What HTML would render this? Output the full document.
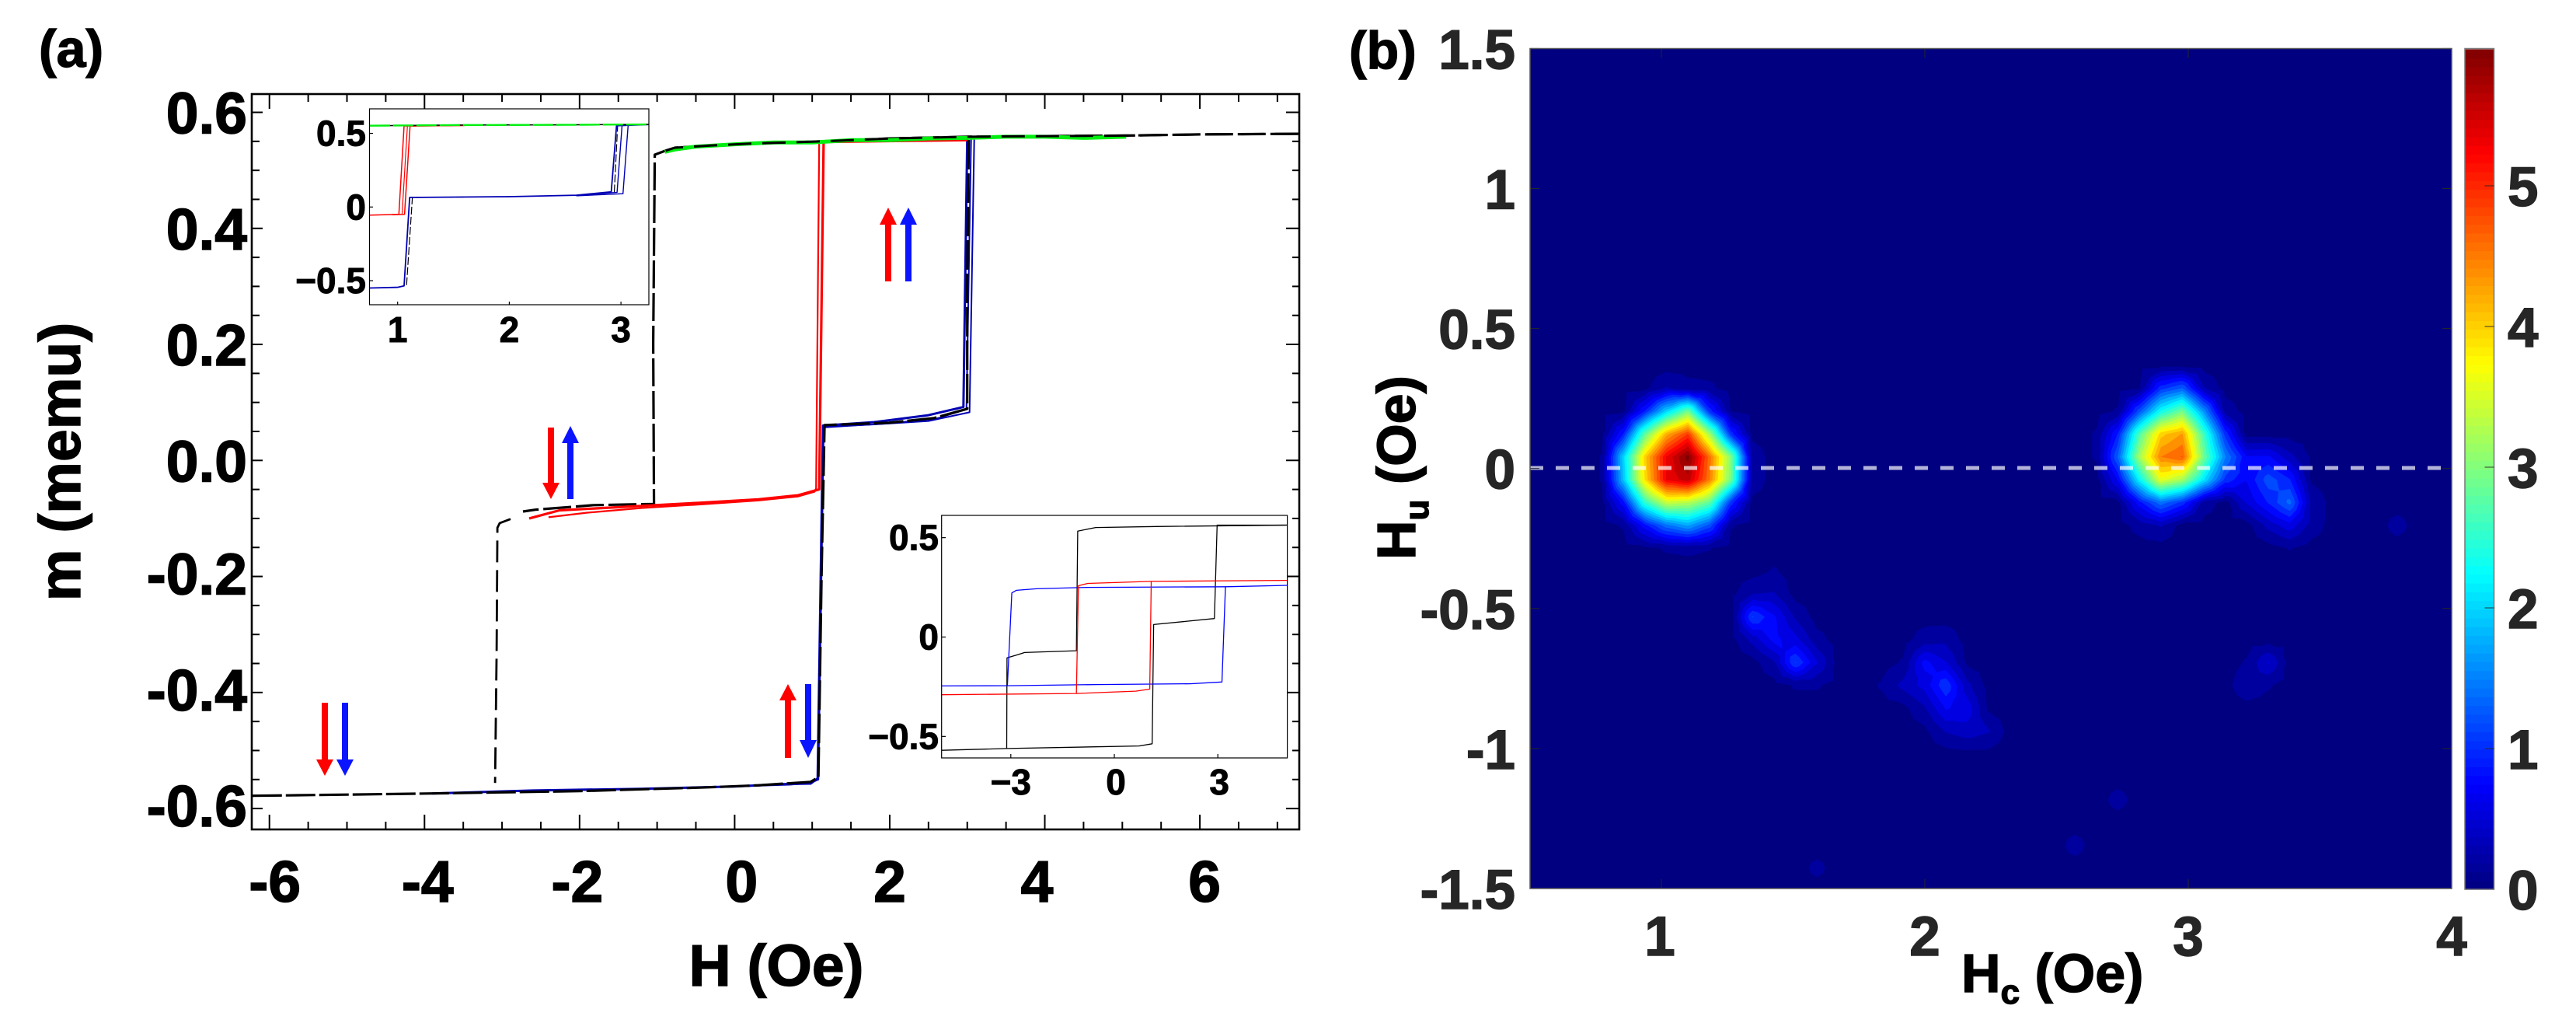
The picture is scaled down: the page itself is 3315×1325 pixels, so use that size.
<!DOCTYPE html>
<html lang="en">
<head>
<meta charset="utf-8">
<title>Hysteresis loop and FORC distribution</title>
<style>
html,body{margin:0;padding:0;background:#fff;}
svg{display:block;position:absolute;left:0;top:0;}
text{font-family:"Liberation Sans",Arial,sans-serif;font-weight:bold;}
</style>
</head>
<body>
<svg id="fig" xmlns="http://www.w3.org/2000/svg" width="3315" height="1325" viewBox="0 0 3315 1325">
  <defs>
    <clipPath id="clipMain"><rect x="324" y="121" width="1348" height="946"/></clipPath>
    <clipPath id="clipIn1"><rect x="475.5" y="140" width="359.5" height="252"/></clipPath>
    <clipPath id="clipIn2"><rect x="1211.7" y="663" width="444.9" height="312"/></clipPath>
    <clipPath id="clipHeat"><rect x="1969" y="62.5" width="1186" height="1080.5"/></clipPath>
  </defs>

  <rect x="0" y="0" width="3315" height="1325" fill="#fff"/>

  <text x="50" y="86" font-size="68" fill="#000" stroke="#000" stroke-width="1.4">(a)</text>
  <text x="1736" y="88" font-size="68" fill="#000" stroke="#000" stroke-width="1.4">(b)</text>

  <g id="mainPlot"></g>

  <g>
    <polygon fill="#ff0000" points="1143,267 1154,289 1147,289 1147,362 1139,362 1139,289 1132,289"/>
    <polygon fill="#0a14ff" points="1169,267 1180,289 1173,289 1173,362 1165,362 1165,289 1158,289"/>
    <polygon fill="#ff0000" points="709,642 720,621 713,621 713,550 705,550 705,621 698,621"/>
    <polygon fill="#0a14ff" points="734,548 745,570 738,570 738,642 730,642 730,570 723,570"/>
    <polygon fill="#ff0000" points="418,998 429,977 422,977 422,904 414,904 414,977 407,977"/>
    <polygon fill="#0a14ff" points="444,998 455,977 448,977 448,904 440,904 440,977 433,977"/>
    <polygon fill="#ff0000" points="1014,880 1025,901 1018,901 1018,975 1010,975 1010,901 1003,901"/>
    <polygon fill="#0a14ff" points="1040,975 1051,952 1044,952 1044,880 1036,880 1036,952 1029,952"/>
  </g>

  <g id="inset1"></g>
  <g id="inset2"></g>

  <text transform="translate(103,594) rotate(-90)" text-anchor="middle" font-size="75" fill="#000" stroke="#000" stroke-width="1.4">m (memu)</text>
  <text x="999" y="1268" text-anchor="middle" font-size="75" fill="#000" stroke="#000" stroke-width="1.4">H (Oe)</text>

  <g id="heatPlot"></g>
  <g id="colorbar"></g>

  <text transform="translate(1821,720) rotate(-90)" font-size="70" fill="#000" stroke="#000" stroke-width="1.4">H<tspan font-size="44" dy="17">u</tspan><tspan dy="-17"> (Oe)</tspan></text>
  <text x="2524" y="1276" font-size="70" fill="#000" stroke="#000" stroke-width="1.4">H<tspan font-size="44" dy="15">c</tspan><tspan dy="-15"> (Oe)</tspan></text>
</svg>

<script>
/* ---------- panel (a): main loop data (H in Oe, m in memu) ---------- */
const mainXTickLabels = [-6, -4, -2, 0, 2, 4, 6];
const mainYTickLabels = ["0.6", "0.4", "0.2", "0.0", "-0.2", "-0.4", "-0.6"];
const mainXLabelNudge = [7, 4, -3, 9, 0, -10, 6];

const blackDownH = [7.27, 6, 5.05, 4, 3.0, 2, 1.13, 0.2, -0.3, -0.77, -0.89, -1.03, -1.05, -1.04, -1.82, -2.57, -2.73];
const blackDownM = [0.563, 0.562, 0.560, 0.559, 0.558, 0.555, 0.550, 0.546, 0.543, 0.539, 0.534, 0.527, 0.2, -0.075, -0.077, -0.085, -0.088];
const blackTailH = [-2.89, -3.03, -3.06, -3.07, -3.09];
const blackTailM = [-0.101, -0.108, -0.116, -0.33, -0.556];
const blackUpH = [-6.22, -5, -3.9, -2, -0.45, 0.31, 0.98, 1.08, 1.12, 1.16, 1.99, 2.57, 3.0, 3.0, 3.02];
const blackUpM = [-0.578, -0.576, -0.574, -0.570, -0.564, -0.560, -0.554, -0.546, -0.2, 0.061, 0.065, 0.073, 0.089, 0.3, 0.555];
const greenH = [-0.9, -0.77, -0.5, 0, 0.5, 1, 1.5, 2, 2.5, 3, 3.5, 4, 4.5, 5.05];
const greenM = [0.532, 0.536, 0.541, 0.545, 0.548, 0.548, 0.552, 0.552, 0.555, 0.556, 0.558, 0.558, 0.556, 0.558];
const redAH = [-2.65, -2.26, -1.42, -0.46, 0.31, 0.82, 1.09, 1.148, 3.0];
const redAM = [-0.1, -0.086, -0.08, -0.073, -0.067, -0.06, -0.05, 0.549, 0.552];
const redBH = [-2.4, -1.9, -1.2, -0.46, 0.31, 0.82, 1.03, 1.05, 1.09];
const redBM = [-0.098, -0.09, -0.082, -0.076, -0.069, -0.062, -0.054, -0.048, 0.549];
const blueAH = [-3.9, -2.6, -1.2, 0, 0.6, 0.98, 1.07, 1.14, 1.8, 2.5, 2.95, 3.0];
const blueAM = [-0.574, -0.569, -0.566, -0.562, -0.558, -0.557, -0.548, 0.06, 0.066, 0.078, 0.092, 0.555];
const blueBH = [0, 0.7, 0.98, 1.08, 1.15, 1.8, 2.5, 3.03, 3.09];
const blueBM = [-0.562, -0.559, -0.556, -0.550, 0.058, 0.062, 0.068, 0.083, 0.553];
const blueCH = [1.16, 2, 2.6, 2.99, 3.05];
const blueCM = [0.057, 0.064, 0.072, 0.088, 0.555];

/* ---------- inset 1: minor-loop zoom ---------- */
const in1XLabels = [1, 2, 3];
const in1YValues = [0.5, 0, -0.5];
const in1YLabels = ["0.5", "0", "\u22120.5"];
const in1RedAH = [0.75, 1.011, 1.058, 1.6];
const in1RedAM = [-0.055, -0.05, 0.55, 0.553];
const in1RedBH = [0.95, 1.062, 1.111, 1.5];
const in1RedBM = [-0.052, -0.05, 0.55, 0.553];
const in1RedCH = [1.04, 1.088];
const in1RedCM = [-0.05, 0.55];
const in1BlueAH = [0.75, 1.0, 1.058, 1.108, 2.0, 2.6, 2.913, 2.96, 3.25];
const in1BlueAM = [-0.55, -0.545, -0.535, 0.065, 0.07, 0.08, 0.103, 0.552, 0.56];
const in1BlueBH = [2.6, 2.965, 3.01];
const in1BlueBM = [0.078, 0.1, 0.552];
const in1BlueCH = [2.6, 3.018, 3.064];
const in1BlueCM = [0.076, 0.09, 0.552];
const in1BlackAH = [1.08, 1.132, 2];
const in1BlackAM = [-0.53, 0.065, 0.07];
const in1BlackBH = [2.94, 2.97];
const in1BlackBM = [0.1, 0.552];
const in1TopH = [0.75, 1.5, 2.5, 3.25];
const in1TopM = [0.552, 0.556, 0.558, 0.561];

/* ---------- inset 2: three full loops ---------- */
const in2XLabels = ["\u22123", "0", "3"];
const in2XValues = [-3, 0, 3];
const in2YValues = [0.5, 0, -0.5];
const in2YLabels = ["0.5", "0", "\u22120.5"];
const in2BlackUpH = [-5, -3.12, 0.72, 1.097, 1.14, 2.9, 2.98, 5.01];
const in2BlackUpM = [-0.57, -0.561, -0.548, -0.537, 0.063, 0.093, 0.563, 0.563];
const in2BlackDownH = [5.01, 1.23, -0.54, -1.06, -1.1, -2.6, -2.84, -3.11, -3.12];
const in2BlackDownM = [0.563, 0.556, 0.551, 0.533, -0.069, -0.078, -0.091, -0.105, -0.56];
const in2RedUpH = [-5, -1.1, 0.62, 1.027, 1.07, 5.01];
const in2RedUpM = [-0.29, -0.284, -0.272, -0.262, 0.28, 0.285];
const in2RedDownH = [1.07, -0.77, -1.04, -1.1];
const in2RedDownM = [0.28, 0.27, 0.258, -0.284];
const in2BlueUpH = [-5, -3.1, -0.5, 2.2, 3.12, 3.22, 5.01];
const in2BlueUpM = [-0.246, -0.245, -0.239, -0.235, -0.226, 0.253, 0.26];
const in2BlueDownH = [3.22, -0.77, -2.26, -2.84, -2.97, -3.1];
const in2BlueDownM = [0.253, 0.25, 0.243, 0.235, 0.222, -0.245];

/* ---------- panel (b): FORC density, estimated on the measurement grid ---------- */
const hcStart = 0.448, hcStep = 0.0816, hcCount = 45;
const huStart = -1.509, huStep = 0.0816, huCount = 38;
const heatXTicks = [1, 2, 3, 4];
const heatYTicks = [1.5, 1, 0.5, 0, -0.5, -1, -1.5];
const heatYLabels = ["1.5", "1", "0.5", "0", "-0.5", "-1", "-1.5"];
const colorTicks = [0, 1, 2, 3, 4, 5];
const colorMax = 5.97;

/* each block: values from the top row downwards; origin = [top row index, left column index] */
const peakOneOrigin = [22, 3];
const peakOne = [
  [0, 0, 0, 0.03, 0.3, 0.15, 0.12, 0, 0],
  [0, 0, 0.05, 0.9, 2.0, 2.9, 1.0, 0.08, 0],
  [0, 0.02, 0.9, 2.8, 4.2, 4.9, 3.2, 1.0, 0.03],
  [0, 0.09, 2.0, 4.0, 5.3, 5.97, 4.6, 3.0, 0.2],
  [0, 0.09, 1.9, 3.9, 5.3, 5.6, 4.5, 2.9, 0.2],
  [0, 0.02, 0.8, 2.5, 3.4, 3.3, 2.8, 1.0, 0.03],
  [0, 0, 0.1, 0.8, 1.4, 1.7, 1.2, 0.1, 0],
  [0, 0, 0, 0.03, 0.1, 0.12, 0.09, 0, 0]
];
const peakTwoOrigin = [23, 27];
const peakTwo = [
  [0, 0, 0, 0.02, 0.02, 0, 0, 0, 0, 0, 0, 0],
  [0, 0, 0.08, 1.0, 1.3, 0.3, 0, 0, 0, 0, 0, 0],
  [0, 0.1, 1.2, 2.3, 2.9, 1.6, 0.2, 0, 0, 0, 0, 0],
  [0.1, 0.9, 2.7, 4.0, 4.3, 2.6, 1.0, 0, 0, 0, 0, 0],
  [0.1, 1.3, 3.2, 4.48, 4.7, 2.9, 1.5, 0.7, 0.72, 0.35, 0.05, 0],
  [0, 0.7, 2.2, 3.6, 3.2, 2.1, 1.0, 0.7, 1.2, 0.9, 0.05, 0],
  [0, 0.02, 0.8, 1.4, 1.0, 0.2, 0, 0.5, 0.9, 1.35, 0.25, 0],
  [0, 0, 0.15, 0.3, 0, 0, 0, 0, 0.35, 0.6, 0.2, 0],
  [0, 0, 0, 0, 0, 0, 0, 0, 0, 0.09, 0, 0]
];
const peakFourOrigin = [14, 10];
const peakFour = [
  [0, 0, 0.1, 0, 0, 0],
  [0.02, 0.28, 0.3, 0, 0, 0],
  [0, 1.1, 0.72, 0.25, 0, 0],
  [0, 0.35, 0.75, 0.55, 0.15, 0],
  [0, 0, 0.25, 1.1, 0.5, 0],
  [0, 0, 0, 0.1, 0.1, 0.02]
];
const peakFiveOrigin = [11, 17];
const peakFive = [
  [0, 0, 0.18, 0.22, 0, 0, 0],
  [0, 0.1, 0.75, 0.5, 0.04, 0, 0],
  [0.1, 0.34, 0.55, 1.05, 0.34, 0, 0],
  [0, 0.02, 0.25, 0.7, 0.6, 0.04, 0],
  [0, 0, 0.03, 0.3, 0.4, 0.3, 0],
  [0, 0, 0, 0, 0.02, 0.02, 0]
];
const spotSixOrigin = [10, 34];
const spotSix = [
  [0.1, 0.5],
  [0.25, 0.1]
];
const loneSpotRows = [16, 1, 2, 4];
const loneSpotCols = [41, 14, 26, 28];
const loneSpotValues = [0.15, 0.13, 0.15, 0.15];

/* ---------- helpers ---------- */
const NS = "http://www.w3.org/2000/svg";
function mk(parent, tag, attrs) {
  const el = document.createElementNS(NS, tag);
  for (const k in attrs) el.setAttribute(k, attrs[k]);
  parent.appendChild(el);
  return el;
}
function polyPath(hs, ms, sx, sy) {
  let d = "";
  for (let i = 0; i < hs.length; i++) d += (i ? "L" : "M") + sx(hs[i]).toFixed(1) + " " + sy(ms[i]).toFixed(1);
  return d;
}
function curve(parent, hs, ms, sx, sy, color, width, dash) {
  const a = { d: polyPath(hs, ms, sx, sy), fill: "none", stroke: color, "stroke-width": width, "stroke-linejoin": "round" };
  if (dash) a["stroke-dasharray"] = dash;
  return mk(parent, "path", a);
}
function label(parent, x, y, str, size, anchor, color) {
  const t = mk(parent, "text", { x: x, y: y, "font-size": size, "text-anchor": anchor, fill: color, stroke: color, "stroke-width": size * 0.02 });
  t.textContent = str;
  return t;
}

/* ---------- panel (a) main ---------- */
const xMain = h => 945.4 + 99.78 * h;
const yMain = m => 592.3 - 746.3 * m;
const mainG = document.getElementById("mainPlot");
const mainCurves = mk(mainG, "g", { "clip-path": "url(#clipMain)" });



let c;
c = curve(mainCurves, blueAH, blueAM, xMain, yMain, "#0000b4", 3);


c = curve(mainCurves, blueBH, blueBM, xMain, yMain, "#0000b4", 2);


c = curve(mainCurves, blueCH, blueCM, xMain, yMain, "#0000b4", 2);


c = curve(mainCurves, blackUpH, blackUpM, xMain, yMain, "#000", 3.2, "38 5");


c = curve(mainCurves, blackDownH, blackDownM, xMain, yMain, "#000", 3.2, "36 6");


c = curve(mainCurves, blackTailH, blackTailM, xMain, yMain, "#000", 2.8, "28 10");


c = curve(mainCurves, redBH, redBM, xMain, yMain, "#ff0000", 2.2);


c = curve(mainCurves, redAH, redAM, xMain, yMain, "#ff0000", 3.2);


c = curve(mainCurves, greenH, greenM, xMain, yMain, "#00ee10", 5);


c = curve(mainCurves, blackDownH.slice(0, 11), blackDownM.slice(0, 11), xMain, yMain, "#000", 3, "30 14");



for (let v = -6; v <= 7.01; v += 0.5) {
  const major = Math.abs(v / 2 - Math.round(v / 2)) < 1e-6;
  const len = major ? 19 : 10;
  const x = xMain(v);
  const b = mk(mainG, "line", { x1: x, x2: x, y1: 1067, y2: 1067 - len, stroke: "#000", "stroke-width": 2 });
  
  
  const t = mk(mainG, "line", { x1: x, x2: x, y1: 121, y2: 121 + len, stroke: "#000", "stroke-width": 2 });
  
  
}
for (let k = -12; k <= 12; k++) {
  const v = k * 0.05;
  const major = k % 4 === 0;
  const y = yMain(v);
  const l = mk(mainG, "line", { x1: 324, x2: 324 + (major ? 14 : 10), y1: y, y2: y, stroke: "#000", "stroke-width": 2 });
  
  
  const r = mk(mainG, "line", { x1: 1672, x2: 1672 - (major ? 17 : 9), y1: y, y2: y, stroke: "#000", "stroke-width": 2 });
  
  
}
const mainFrame = mk(mainG, "rect", { x: 324, y: 121, width: 1348, height: 946, fill: "none", stroke: "#000", "stroke-width": 2.6 });


mainXTickLabels.forEach((v, i) => {
  const t = label(mainG, xMain(v) + mainXLabelNudge[i], 1160, String(v), 75, "middle", "#000");
  
  
});
mainYTickLabels.forEach(s => {
  const v = parseFloat(s);
  const t = label(mainG, 318, yMain(v) + (v < 0 ? 23 : 27), s, 75, "end", "#000");
  
  
});

/* ---------- inset 1 ---------- */
const xIn1 = h => 511.7 + 143.7 * (h - 1);
const yIn1 = m => 266.3 - 189.5 * m;
const in1G = document.getElementById("inset1");
const in1Bg = mk(in1G, "rect", { x: 475.5, y: 140, width: 359.5, height: 252, fill: "#fff" });


const in1C = mk(in1G, "g", { "clip-path": "url(#clipIn1)" });


c = curve(in1C, in1RedAH, in1RedAM, xIn1, yIn1, "#ff0000", 1.5);


c = curve(in1C, in1RedBH, in1RedBM, xIn1, yIn1, "#ff0000", 1.5);


c = curve(in1C, in1RedCH, in1RedCM, xIn1, yIn1, "#ff0000", 1.2);


c = curve(in1C, in1BlackAH, in1BlackAM, xIn1, yIn1, "#000", 1.2, "10 3");


c = curve(in1C, in1BlackBH, in1BlackBM, xIn1, yIn1, "#000", 1.2, "10 3");


c = curve(in1C, in1BlueAH, in1BlueAM, xIn1, yIn1, "#0000b4", 1.8);


c = curve(in1C, in1BlueBH, in1BlueBM, xIn1, yIn1, "#0000b4", 1.4);


c = curve(in1C, in1BlueCH, in1BlueCM, xIn1, yIn1, "#0000b4", 1.4);


c = curve(in1C, in1TopH, in1TopM, xIn1, yIn1, "#000", 1.5);


c = curve(in1C, in1TopH, in1TopM, xIn1, yIn1, "#00ee10", 2.4, "26 4");


const in1F = mk(in1G, "rect", { x: 475.5, y: 140, width: 359.5, height: 252, fill: "none", stroke: "#000", "stroke-width": 1.2 });


in1XLabels.forEach(v => {
  const x = xIn1(v);
  const tk = mk(in1G, "line", { x1: x, x2: x, y1: 392, y2: 388, stroke: "#000", "stroke-width": 1.2 });
  
  
  const t = label(in1G, x, 440, String(v), 46, "middle", "#000");
  
  
});
in1YValues.forEach((v, i) => {
  const y = yIn1(v);
  const tk = mk(in1G, "line", { x1: 475.5, x2: 480, y1: y, y2: y, stroke: "#000", "stroke-width": 1.2 });
  
  
  const t = label(in1G, 471, y + 16, in1YLabels[i], 46, "end", "#000");
  
  
});

/* ---------- inset 2 ---------- */
const xIn2 = h => 1434 + 44.4 * h;
const yIn2 = m => 819.5 - 255.7 * m;
const in2G = document.getElementById("inset2");
const in2Bg = mk(in2G, "rect", { x: 1211.7, y: 663, width: 444.9, height: 312, fill: "#fff" });


const in2C = mk(in2G, "g", { "clip-path": "url(#clipIn2)" });


c = curve(in2C, in2BlackUpH, in2BlackUpM, xIn2, yIn2, "#000", 1.3);


c = curve(in2C, in2BlackDownH, in2BlackDownM, xIn2, yIn2, "#000", 1.3);


c = curve(in2C, in2BlueUpH, in2BlueUpM, xIn2, yIn2, "#0000ff", 1.3);


c = curve(in2C, in2BlueDownH, in2BlueDownM, xIn2, yIn2, "#0000ff", 1.3);


c = curve(in2C, in2RedUpH, in2RedUpM, xIn2, yIn2, "#ff0000", 1.3);


c = curve(in2C, in2RedDownH, in2RedDownM, xIn2, yIn2, "#ff0000", 1.3);


const in2F = mk(in2G, "rect", { x: 1211.7, y: 663, width: 444.9, height: 312, fill: "none", stroke: "#000", "stroke-width": 1.2 });


in2XValues.forEach((v, i) => {
  const x = xIn2(v);
  const tk = mk(in2G, "line", { x1: x, x2: x, y1: 975, y2: 970, stroke: "#000", "stroke-width": 1.2 });
  
  
  const t = label(in2G, v < 0 ? x : x + 2, 1022, in2XLabels[i], 46, "middle", "#000");
  
  
});
in2YValues.forEach((v, i) => {
  const y = yIn2(v);
  const tk = mk(in2G, "line", { x1: 1211.7, x2: 1217, y1: y, y2: y, stroke: "#000", "stroke-width": 1.2 });
  
  
  const t = label(in2G, 1208, y + 16, in2YLabels[i], 46, "end", "#000");
  
  
});

/* ---------- panel (b) heatmap ---------- */
const xHeat = hc => 2138 + 339 * (hc - 1);
const yHeat = hu => 602.7 - 360.2 * hu;
function jet(t) {
  const cl = v => Math.max(0, Math.min(1, v));
  const r = cl(1.5 - Math.abs(4 * t - 3)), g = cl(1.5 - Math.abs(4 * t - 2)), b = cl(1.5 - Math.abs(4 * t - 1));
  return "rgb(" + Math.round(r * 255) + "," + Math.round(g * 255) + "," + Math.round(b * 255) + ")";
}
const zGrid = [];
for (let r = 0; r < huCount; r++) {
  zGrid.push(new Array(hcCount).fill(0));
}
function stamp(origin, rows) {
  rows.forEach((row, i) => row.forEach((val, j) => {
    zGrid[origin[0] - i][origin[1] + j] = val;
  }));
}
stamp(peakOneOrigin, peakOne);
stamp(peakTwoOrigin, peakTwo);
stamp(peakFourOrigin, peakFour);
stamp(peakFiveOrigin, peakFive);
stamp(spotSixOrigin, spotSix);
loneSpotRows.forEach((r, i) => { zGrid[r][loneSpotCols[i]] = loneSpotValues[i]; });

const heatG = document.getElementById("heatPlot");
const heatBg = mk(heatG, "rect", { x: 1969, y: 62.5, width: 1186, height: 1080.5, fill: "#000080" });


const bandG = mk(heatG, "g", { "clip-path": "url(#clipHeat)" });



const tris = [];
for (let r = 0; r < huCount - 1; r++) {
  for (let col = 0; col < hcCount - 1; col++) {
    const z00 = zGrid[r][col], z01 = zGrid[r][col + 1], z10 = zGrid[r + 1][col], z11 = zGrid[r + 1][col + 1];
    if (z00 === 0 && z01 === 0 && z10 === 0 && z11 === 0) continue;
    const x0 = xHeat(hcStart + col * hcStep), x1 = xHeat(hcStart + (col + 1) * hcStep);
    const y0 = yHeat(huStart + r * huStep), y1 = yHeat(huStart + (r + 1) * huStep);
    const ctr = [(x0 + x1) / 2, (y0 + y1) / 2, (z00 + z01 + z10 + z11) / 4];
    const a = [x0, y0, z00], b = [x1, y0, z01], d = [x1, y1, z11], e = [x0, y1, z10];
    tris.push([a, b, ctr], [b, d, ctr], [d, e, ctr], [e, a, ctr]);
  }
}
function clipTri(tri, L) {
  const out = [];
  for (let i = 0; i < 3; i++) {
    const p = tri[i], q = tri[(i + 1) % 3];
    const pIn = p[2] >= L, qIn = q[2] >= L;
    if (pIn) out.push(p);
    if (pIn !== qIn) {
      const t = (L - p[2]) / (q[2] - p[2]);
      out.push([p[0] + t * (q[0] - p[0]), p[1] + t * (q[1] - p[1]), L]);
    }
  }
  return out;
}
for (let k = 0; k < 30; k++) {
  const L = 0.08 + 0.2 * k;
  let d = "";
  for (const tri of tris) {
    if (Math.max(tri[0][2], tri[1][2], tri[2][2]) < L) continue;
    const poly = clipTri(tri, L);
    if (poly.length < 3) continue;
    d += "M" + poly.map(p => p[0].toFixed(1) + " " + p[1].toFixed(1)).join("L") + "Z";
  }
  if (!d) continue;
  const band = mk(bandG, "path", { d: d, fill: jet((L + 0.1) / colorMax) });
  
  
}
const zeroLine = mk(heatG, "line", { x1: 1969, x2: 3155, y1: 602, y2: 602, stroke: "#fff", "stroke-opacity": 0.7, "stroke-width": 5, "stroke-dasharray": "17 16" });



heatXTicks.forEach(v => {
  const x = xHeat(v);
  const a = mk(heatG, "line", { x1: x, x2: x, y1: 1143, y2: 1131, stroke: "#262626", "stroke-width": 1 });
  
  
  const b = mk(heatG, "line", { x1: x, x2: x, y1: 62.5, y2: 74.5, stroke: "#262626", "stroke-width": 1 });
  
  
  const t = label(heatG, x - (v === 1 ? 2 : 0), 1229, String(v), 71, "middle", "#262626");
  
  
});
heatYTicks.forEach((v, i) => {
  const y = yHeat(v);
  const a = mk(heatG, "line", { x1: 1969, x2: 1981, y1: y, y2: y, stroke: "#262626", "stroke-width": 1 });
  
  
  const b = mk(heatG, "line", { x1: 3155, x2: 3143, y1: y, y2: y, stroke: "#262626", "stroke-width": 1 });
  
  
  const t = label(heatG, 1950, y + 26, heatYLabels[i], 71, "end", "#262626");
  
  
});
const heatF = mk(heatG, "rect", { x: 1969, y: 62.5, width: 1186, height: 1080.5, fill: "none", stroke: "#555", "stroke-width": 1.5 });



/* ---------- colorbar ---------- */
const yColor = v => 1144 - 181 * v;
const cbG = document.getElementById("colorbar");
for (let i = 0; i < 96; i++) {
  const v0 = colorMax * i / 96, v1 = colorMax * (i + 1) / 96;
  const seg = mk(cbG, "rect", { x: 3172, width: 37.5, y: yColor(v1), height: yColor(v0) - yColor(v1) + 0.6, fill: jet((v0 + v1) / 2 / colorMax) });
  
  
}
const cbF = mk(cbG, "rect", { x: 3172, y: 62.5, width: 37.5, height: 1081.5, fill: "none", stroke: "#777", "stroke-width": 1.5 });


colorTicks.forEach(v => {
  const y = yColor(v);
  if (v > 0) {
    const tk = mk(cbG, "line", { x1: 3209.5, x2: 3197.5, y1: y, y2: y, stroke: "#262626", "stroke-opacity": 0.75, "stroke-width": 1.2 });
    
    
  }
  const t = label(cbG, 3227, y + 26, String(v), 71, "start", "#262626");
  
  
});
</script>
</body>
</html>
